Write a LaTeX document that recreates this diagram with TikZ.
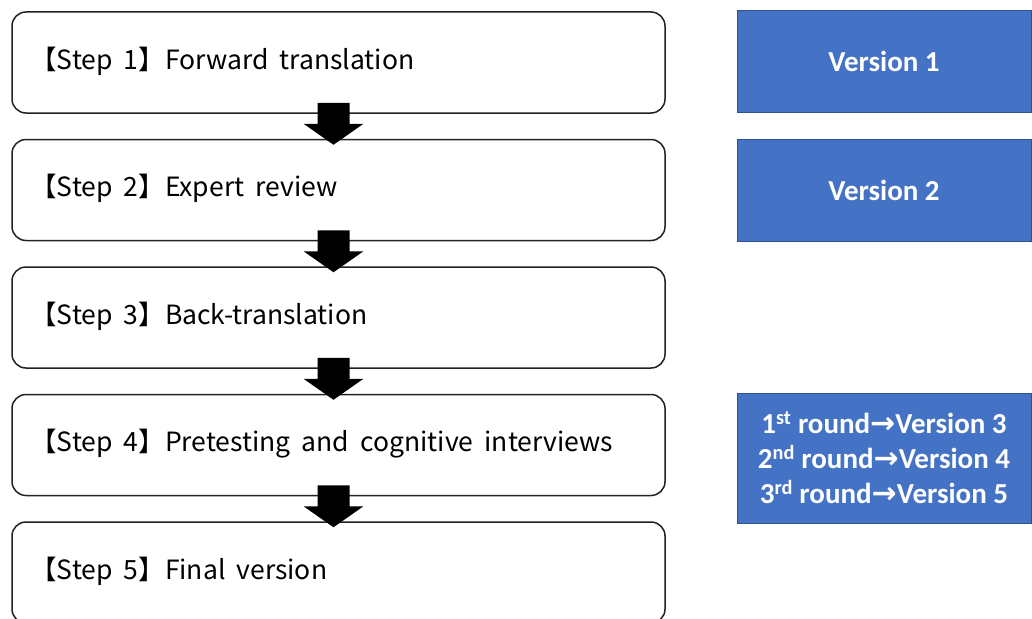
\documentclass[tikz,border=0pt]{standalone}
\usepackage{fontspec}
\newfontfamily\jpfont{Noto Sans CJK JP}
\newfontfamily\calib{Carlito}
\newfontfamily\arrfont{DejaVu Sans}
\usetikzlibrary{calc}
\definecolor{vblue}{HTML}{4472C4}
\definecolor{vedge}{HTML}{2F528F}
\definecolor{boxline}{HTML}{222222}
\newcommand{\wsp}{\hspace{0.42em}}
\newcommand{\rarr}{{\arrfont\bfseries\fontsize{30pt}{30pt}\selectfont →}}
\begin{document}
\begin{tikzpicture}[x=1pt,y=-1pt,
  stepbox/.style={draw=boxline, line width=1.5pt, rounded corners=14pt, minimum width=653pt, minimum height=101pt, inner sep=0pt, fill=white},
  steptext/.style={anchor=base west, inner sep=0pt, font=\jpfont\fontsize{26.5pt}{30pt}\selectfont},
  verbox/.style={draw=vedge, line width=1pt, fill=vblue, text=white, minimum width=294pt, inner sep=0pt, align=center, font=\calib\bfseries\fontsize{29pt}{35pt}\selectfont},
  bigarrow/.style={fill=black, draw=none}
]
\useasboundingbox (0,0) rectangle (1032,618);
\clip (0,0) rectangle (1032,618);
% step boxes
\node[stepbox] (b1) at (338.5,62.5) {};
\node[stepbox] (b2) at (338.5,190) {};
\node[stepbox] (b3) at (338.5,317.5) {};
\node[stepbox] (b4) at (338.5,445) {};
\node[stepbox] (b5) at (338.5,572.5) {};
% texts
\node[steptext] (t1) at ([shift={(19,58)}]b1.north west) {【Step\wsp1】Forward\wsp translation};
\node[steptext] (t2) at ([shift={(19,58)}]b2.north west) {【Step\wsp2】Expert\wsp review};
\node[steptext] (t3) at ([shift={(19,58)}]b3.north west) {【Step\wsp3】Back-translation};
\node[steptext] (t4) at ([shift={(19,58)}]b4.north west) {【Step\wsp4】Pretesting\wsp and\wsp cognitive\wsp interviews};
\node[steptext] (t5) at ([shift={(19,58)}]b5.north west) {【Step\wsp5】Final\wsp version};
% arrows between boxes
\foreach \a/\b in {b1/b2, b2/b3, b3/b4, b4/b5}{
  \fill[bigarrow] ([shift={(-21,-11)}]\a.south) -- ([shift={(11,-11)}]\a.south)
     -- ([shift={(11,10)}]\a.south) -- ([shift={(25,10)}]\a.south)
     -- ([shift={(-5,6)}]\b.north)
     -- ([shift={(-35,10)}]\a.south) -- ([shift={(-21,10)}]\a.south) -- cycle;
}
% version boxes
\node[verbox, minimum height=102pt] (v1) at (884,61.6) {Version 1};
\node[verbox, minimum height=102pt] (v2) at (884,190) {Version 2};
\node[verbox, minimum height=130pt] (v3) at (884,458) {1\textsuperscript{st} round\rarr Version 3\\2\textsuperscript{nd} round\rarr Version 4\\3\textsuperscript{rd} round\rarr Version 5};
\end{tikzpicture}
\end{document}
